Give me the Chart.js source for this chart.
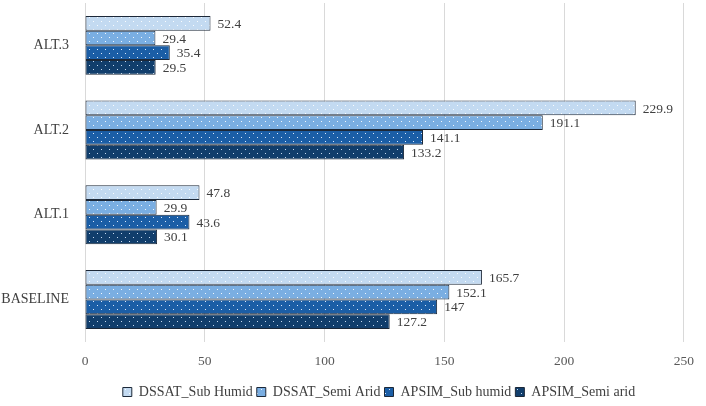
<!DOCTYPE html>
<html>
<head>
<meta charset="utf-8">
<script src="https://cdn.jsdelivr.net/npm/chart.js@4"></script>
<style>
  html, body { margin: 0; padding: 0; background: #fff; }
  #wrap { width: 706px; height: 406px; }
</style>
</head>
<body>
<div id="wrap"><canvas id="chart" width="706" height="406"></canvas></div>
<script>
const categories = ['ALT.3', 'ALT.2', 'ALT.1', 'BASELINE'];
const seriesNames = ['DSSAT_Sub Humid', 'DSSAT_Semi Arid', 'APSIM_Sub humid', 'APSIM_Semi arid'];
const dssatSubHumid = [52.4, 229.9, 47.8, 165.7];
const dssatSemiArid = [29.4, 191.1, 29.9, 152.1];
const apsimSubHumid = [35.4, 141.1, 43.6, 147];
const apsimSemiArid = [29.5, 133.2, 30.1, 127.2];
const xTicks = [0, 50, 100, 150, 200, 250];

const baseColors = ['#c3daf1', '#7aaee2', '#1b5ea6', '#113e6c'];
const dotColors = ['rgba(255,255,255,0.9)', 'rgba(255,255,255,0.9)', 'rgba(230,240,255,0.95)', 'rgba(220,235,255,0.9)'];

// dotted fill like the original
function makePattern(bg, dot) {
    const c = document.createElement('canvas');
    c.width = 8; c.height = 8;
    const g = c.getContext('2d');
    g.fillStyle = bg;
    g.fillRect(0, 0, 8, 8);
    g.fillStyle = dot;
    g.fillRect(1, 1, 1, 1);
    g.fillRect(5, 5, 1, 1);
    return document.getElementById('chart').getContext('2d').createPattern(c, 'repeat');
}

const serif = '"Liberation Serif", "Times New Roman", serif';

const valueLabels = {
    id: 'valueLabels',
    afterDatasetsDraw(chart) {
        const ctx = chart.ctx;
        ctx.save();
        ctx.font = '13.5px ' + serif;
        ctx.fillStyle = '#404040';
        ctx.textAlign = 'left';
        ctx.textBaseline = 'middle';
        chart.data.datasets.forEach((ds, i) => {
            chart.getDatasetMeta(i).data.forEach((bar, j) => {
                ctx.fillText(String(ds.data[j]), bar.x + 7, bar.y + 1);
            });
        });
        ctx.restore();
    }
};

// nudge the legend to where the original has it
const legendShift = {
    id: 'legendShift',
    beforeDraw(chart) {
        const lg = chart.legend;
        if (!lg || lg._shifted) return;
        lg.left += 32;
        lg.right += 32;
        lg.top += 13;
        lg.bottom += 13;
        lg._shifted = true;
    }
};

const allSeries = [dssatSubHumid, dssatSemiArid, apsimSubHumid, apsimSemiArid];

new Chart(document.getElementById('chart'), {
    type: 'bar',
    data: {
        labels: categories,
        datasets: allSeries.map((vals, i) => ({
            label: seriesNames[i],
            data: vals,
            backgroundColor: makePattern(baseColors[i], dotColors[i]),
            borderColor: '#1c2838',
            borderWidth: 1,
            borderSkipped: false,
            categoryPercentage: 0.695,
            barPercentage: 1.0
        }))
    },
    options: {
        indexAxis: 'y',
        responsive: false,
        animation: false,
        layout: { padding: { top: 3, right: 12, left: 0, bottom: 10 } },
        plugins: {
            legend: {
                position: 'bottom',
                labels: {
                    boxWidth: 9,
                    boxHeight: 9,
                    padding: 4,
                    color: '#404040',
                    font: { family: serif, size: 14 }
                }
            },
            tooltip: { enabled: false }
        },
        scales: {
            x: {
                min: 0,
                max: 250,
                afterBuildTicks: axis => { axis.ticks = xTicks.map(v => ({ value: v })); },
                afterFit: axis => { axis.height -= 14; },
                grid: { color: '#d9d9d9', drawTicks: false },
                border: { display: false },
                ticks: {
                    color: '#595959',
                    padding: 12,
                    font: { family: serif, size: 13.5 }
                }
            },
            y: {
                afterFit: axis => {
                    axis.width = 85;
                    axis.paddingTop = 0;
                    axis.paddingBottom = 0;
                },
                grid: { display: false },
                border: { display: false },
                ticks: {
                    color: '#404040',
                    padding: 8,
                    font: { family: serif, size: 14 }
                }
            }
        }
    },
    plugins: [valueLabels, legendShift]
});
</script>
</body>
</html>
